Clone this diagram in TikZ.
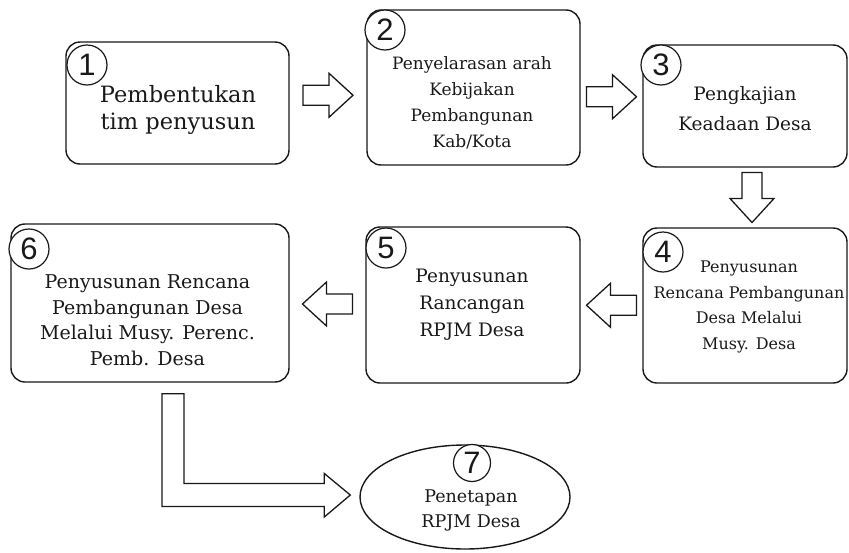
\documentclass[tikz,border=0pt]{standalone}
\usepackage{fontspec}
\setmainfont{DejaVu Serif}
\newfontfamily\digitfont{Liberation Sans}
\usetikzlibrary{calc,shapes.geometric}
\definecolor{ink}{rgb}{0.1,0.1,0.1}
\tikzset{
  box/.style={draw=ink, line width=1.4pt, rounded corners=14pt, inner sep=0pt},
  num/.style={circle, draw=ink, fill=white, line width=1.2pt, minimum size=40pt, inner sep=0pt,
    text=ink, font=\digitfont\fontsize{31}{31}\selectfont},
  txt/.style={align=center, text=ink, inner sep=0pt},
  barrow/.pic={\draw[ink, line width=1.3pt, fill=white, line join=miter]
    (-25,-10) -- (1,-10) -- (1,-22) -- (25,0) -- (1,22) -- (1,10) -- (-25,10) -- cycle;}
}
\begin{document}
\begin{tikzpicture}[x=1pt,y=-1pt]
\useasboundingbox (0,0) rectangle (849,552);
% boxes
\node[box, minimum width=223pt, minimum height=122pt] (b1) at (177.5,103) {};
\node[box, minimum width=213pt, minimum height=155pt] (b2) at (473.5,87.5) {};
\node[box, minimum width=204pt, minimum height=122pt] (b3) at (745,106) {};
\node[box, minimum width=204pt, minimum height=155pt] (b4) at (745,305.5) {};
\node[box, minimum width=214pt, minimum height=156pt] (b5) at (473,305) {};
\node[box, minimum width=278pt, minimum height=158pt] (b6) at (150,303) {};
\node[ellipse, draw=ink, line width=1.4pt, minimum width=210pt, minimum height=104pt, inner sep=0pt] (b7) at (465,497) {};
% texts
\node[txt, font=\fontsize{22.5}{27}\selectfont] (t1) at (178,110) {Pembentukan\\tim penyusun};
\node[txt, font=\fontsize{17}{26}\selectfont] (t2) at (472,103) {Penyelarasan arah\\Kebijakan\\Pembangunan\\Kab/Kota};
\node[txt, font=\fontsize{18.5}{30}\selectfont] (t3) at (745,109) {Pengkajian\\Keadaan Desa};
\node[txt, font=\fontsize{16}{25.7}\selectfont] (t4) at (749,307) {Penyusunan\\Rencana Pembangunan\\Desa Melalui\\Musy. Desa};
\node[txt, font=\fontsize{18.5}{27}\selectfont] (t5) at (472,305) {Penyusunan\\Rancangan\\RPJM Desa};
\node[txt, font=\fontsize{19}{25.5}\selectfont] (t6) at (147.5,320) {Penyusunan Rencana\\Pembangunan Desa\\Melalui Musy. Perenc.\\Pemb. Desa};
\node[txt, font=\fontsize{17.5}{25}\selectfont] (t7) at (471,510) {Penetapan\\RPJM Desa};
% number circles
\node[num] (n1) at (87,65) {1};
\node[num] (n2) at (385,30) {2};
\node[num] (n3) at (661,65) {3};
\node[num] (n4) at (663,252) {4};
\node[num] (n5) at (386,248) {5};
\node[num] (n6) at (29,249) {6};
\node[num, minimum size=37pt] (n7) at (472,463) {7};
% block arrows
\pic at ($(b1.east)!0.5!(b2.west)$) {barrow};
\pic at ($(b2.east)!0.5!(b3.west)$) {barrow};
\pic[rotate=-90] at ($(b3.south)!0.5!(b4.north)+(7,0)$) {barrow};
\pic[rotate=180] at ($(b4.west)!0.5!(b5.east)$) {barrow};
\pic[rotate=180] at ($(b5.west)!0.5!(b6.east)$) {barrow};
% L-shaped arrow from 6 to 7
\coordinate (l0) at ($(b6.south)+(12,11)$);
\coordinate (ltip) at ($(b7.west)+(-9,-2)$);
\draw[ink, line width=1.3pt, fill=white, line join=miter]
  (l0) -- ++(22,0) |- ($(ltip)+(-26,-11.5)$) -- ++(0,-10) -- (ltip)
  -- ++(-26,22) -- ++(0,-10.5) -| (l0) -- cycle;
\end{tikzpicture}
\end{document}
